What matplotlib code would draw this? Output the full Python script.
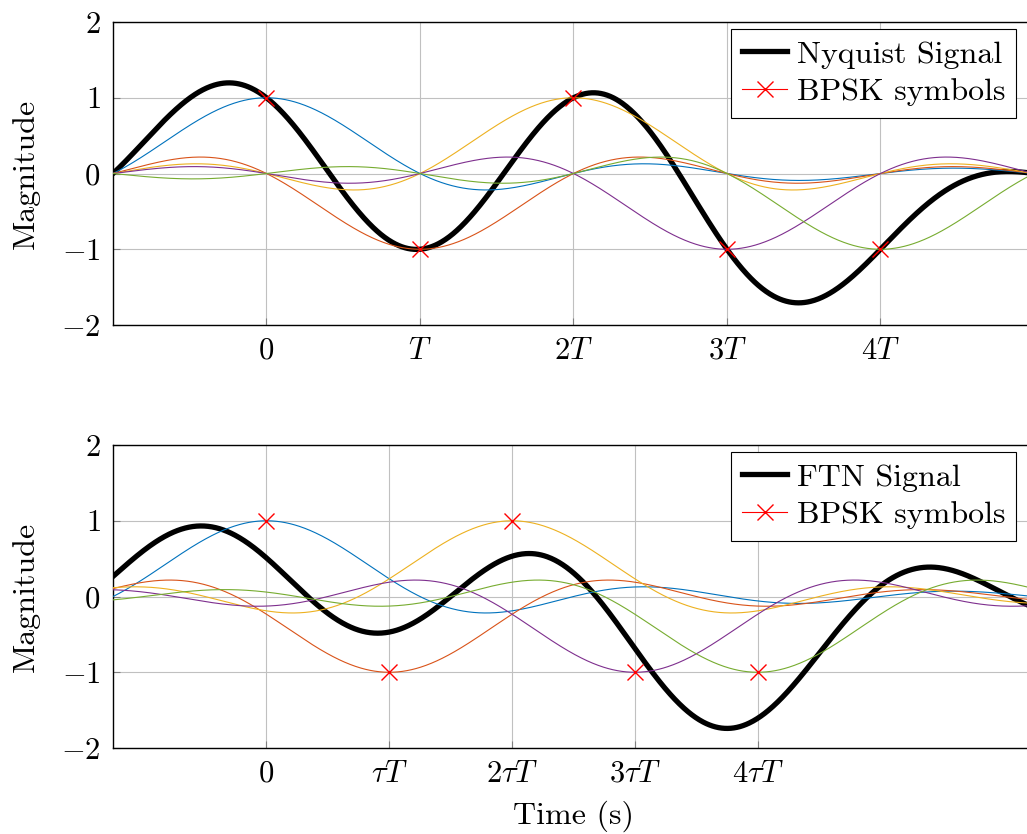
import numpy as np
import matplotlib
matplotlib.use('Agg')
import matplotlib.pyplot as plt
from matplotlib.lines import Line2D

# BPSK symbols sent at k*T (Nyquist) and k*tau*T (FTN)
symbols = [1, -1, 1, -1, -1]
symbol_index = [0, 1, 2, 3, 4]
tau = 0.8
pulse_colors = ['#0072BD', '#D95319', '#EDB120', '#7E2F8E', '#77AC30']

nyq_ticklabels = [r'$0$', r'$T$', r'$2T$', r'$3T$', r'$4T$']
ftn_ticklabels = [r'$0$', r'$\tau T$', r'$2\tau T$', r'$3\tau T$', r'$4\tau T$']
yticks = [-2, -1, 0, 1, 2]
ytick_labels = [r'$-2$', r'$-1$', r'$0$', r'$1$', r'$2$']

plt.rcParams.update({
    'font.family': 'serif',
    'font.serif': ['cmr10'],
    'mathtext.fontset': 'cm',
    'axes.formatter.use_mathtext': True,
    'font.size': 22,
})

t = np.linspace(-1, 5, 1201)

fig = plt.figure(figsize=(10.27, 8.34), dpi=100)
ax_top = fig.add_axes([0.110, 0.6103, 0.8968, 0.3633])
ax_bot = fig.add_axes([0.110, 0.1031, 0.8968, 0.3633])


def draw_panel(ax, spacing, ticklabels, signal_label):
    centers = np.array(symbol_index) * spacing
    pulses = [a * np.sinc(t - c) for a, c in zip(symbols, centers)]
    ax.plot(t, np.sum(pulses, axis=0), color='black', linewidth=3.8, zorder=3)
    for p, col in zip(pulses, pulse_colors):
        ax.plot(t, p, color=col, linewidth=0.8, zorder=4)
    ax.plot(centers, symbols, linestyle='none', marker='x', color='red',
            markersize=11, markeredgewidth=1.0, zorder=5)

    ax.set_xlim(-1, 5)
    ax.set_ylim(-2, 2)
    ax.set_xticks(centers)
    ax.set_xticklabels(ticklabels)
    ax.set_yticks(yticks)
    ax.set_yticklabels(ytick_labels)
    ax.grid(True, color='#c0c0c0', linewidth=0.8)
    ax.set_axisbelow(True)
    ax.tick_params(direction='in', length=5, width=0.8, color='#808080',
                   labelsize=22, pad=9)
    for s in ax.spines.values():
        s.set_linewidth(1.0)
    ax.set_ylabel('Magnitude', fontsize=23, labelpad=15)

    handles = [Line2D([], [], color='black', linewidth=3.8),
               Line2D([], [], color='red', linewidth=0.8, marker='x',
                      markersize=11, markeredgewidth=1.0)]
    leg = ax.legend(handles, [signal_label, 'BPSK symbols'], loc='upper right',
                    bbox_to_anchor=(0.981, 0.977), borderaxespad=0,
                    fancybox=False, framealpha=1, edgecolor='black',
                    fontsize=23, handlelength=1.4, handletextpad=0.3,
                    labelspacing=0.3, borderpad=0.35)
    leg.get_frame().set_linewidth(0.8)


draw_panel(ax_top, 1.0, nyq_ticklabels, 'Nyquist Signal')
draw_panel(ax_bot, tau, ftn_ticklabels, 'FTN Signal')
ax_bot.set_xlabel('Time (s)', fontsize=23, labelpad=9)

fig.savefig('out.png', dpi=100)
